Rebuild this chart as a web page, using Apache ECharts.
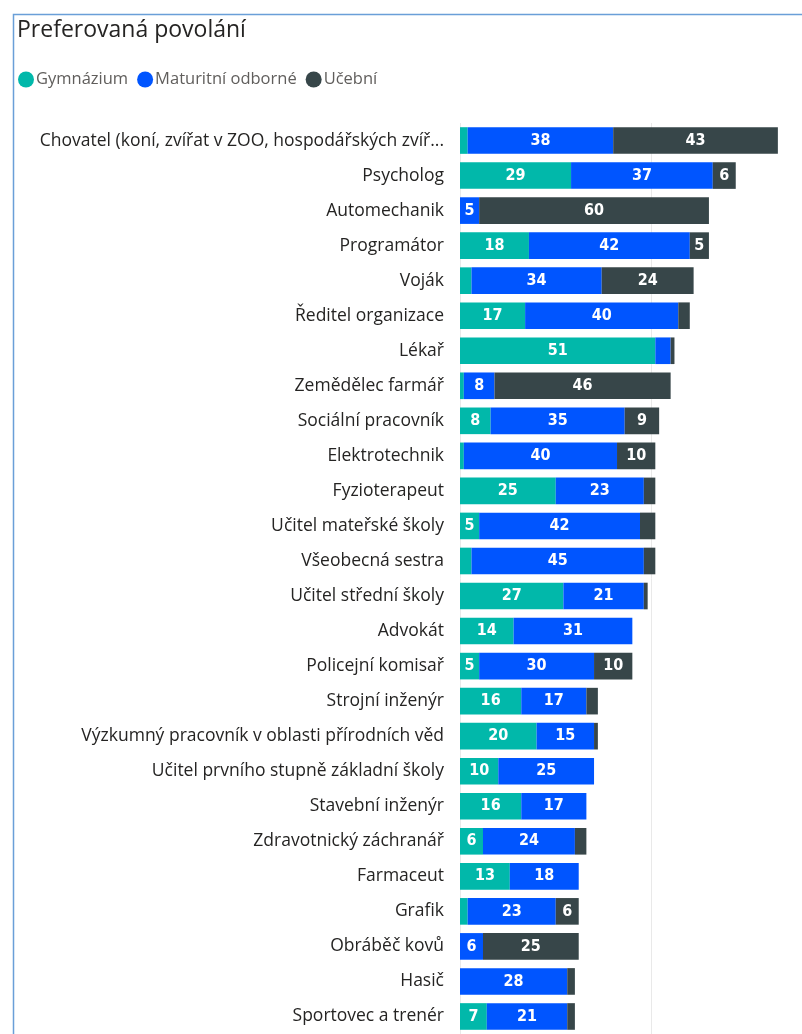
<!DOCTYPE html>
<html>
<head>
<meta charset="utf-8">
<script src="https://cdn.jsdelivr.net/npm/echarts@6/dist/echarts.min.js"></script>
<style>
  html, body { margin: 0; padding: 0; background: #fff; }
  #chart { width: 802px; height: 1034px; }
</style>
</head>
<body>
<div id="chart"></div>
<script>
const categories = [
  'Chovatel (koní, zvířat v ZOO, hospodářských zvíř...',
  'Psycholog',
  'Automechanik',
  'Programátor',
  'Voják',
  'Ředitel organizace',
  'Lékař',
  'Zemědělec farmář',
  'Sociální pracovník',
  'Elektrotechnik',
  'Fyzioterapeut',
  'Učitel mateřské školy',
  'Všeobecná sestra',
  'Učitel střední školy',
  'Advokát',
  'Policejní komisař',
  'Strojní inženýr',
  'Výzkumný pracovník v oblasti přírodních věd',
  'Učitel prvního stupně základní školy',
  'Stavební inženýr',
  'Zdravotnický záchranář',
  'Farmaceut',
  'Grafik',
  'Obráběč kovů',
  'Hasič',
  'Sportovec a trenér'
]
const gymnazium = [2, 29, 0, 18, 3, 17, 51, 1, 8, 1, 25, 5, 3, 27, 14, 5, 16, 20, 10, 16, 6, 13, 2, 0, 0, 7]
const maturitni = [38, 37, 5, 42, 34, 40, 4, 8, 35, 40, 23, 42, 45, 21, 31, 30, 17, 15, 25, 17, 24, 18, 23, 6, 28, 21]
const ucebni = [43, 6, 60, 5, 24, 3, 1, 46, 9, 10, 3, 4, 3, 1, 0, 10, 3, 1, 0, 0, 3, 0, 6, 25, 2, 2]

const seriesNames = ['Gymnázium', 'Maturitní odborné', 'Učební']
const colors = ['#01B8AA', '#0055FF', '#374649']

let chart = echarts.init(document.getElementById('chart'))

const barLabel = {
  show: true,
  color: '#ffffff',
  fontFamily: 'DejaVu Sans Condensed',
  fontWeight: 'bold',
  fontSize: 16,
  formatter: p => (p.value >= 5 ? p.value : '')
}

const option = {
  animation: false,
  title: {
    text: 'Preferovaná povolání',
    left: 12,
    top: 14,
    textStyle: {
      fontFamily: 'Open Sans',
      fontWeight: 'normal',
      fontSize: 23,
      color: '#252423'
    }
  },
  legend: {
    left: 13,
    top: 66,
    icon: 'circle',
    itemWidth: 16,
    itemHeight: 16,
    itemGap: 9,
    textStyle: {
      fontFamily: 'Open Sans',
      fontSize: 16.5,
      color: '#605E5C',
      padding: [0, 0, 0, -3]
    },
    data: seriesNames
  },
  grid: {
    left: 460,
    right: 0,
    top: 123,
    bottom: -4,
    containLabel: false
  },
  xAxis: {
    type: 'value',
    min: 0,
    max: 89.3,
    interval: 50,
    axisLabel: { show: false },
    axisLine: { show: false },
    axisTick: { show: false },
    splitLine: { lineStyle: { color: '#e9e9e9', width: 1 } }
  },
  yAxis: {
    type: 'category',
    inverse: true,
    data: categories,
    axisLine: { show: false },
    axisTick: { show: false },
    axisLabel: {
      margin: 16,
      fontFamily: 'Open Sans',
      fontSize: 17.5,
      color: '#252423'
    }
  },
  graphic: [
    {
      type: 'polyline',
      shape: { points: [[13.5, 1034], [13.5, 14.5], [802, 14.5]] },
      style: { stroke: '#6A9FD8', lineWidth: 1.5, fill: null }
    }
  ],
  series: [gymnazium, maturitni, ucebni].map((values, i) => ({
    name: seriesNames[i],
    type: 'bar',
    stack: 'total',
    data: values,
    barCategoryGap: '24%',
    itemStyle: { color: colors[i] },
    label: barLabel
  }))
}

chart.setOption(option)
</script>
</body>
</html>
